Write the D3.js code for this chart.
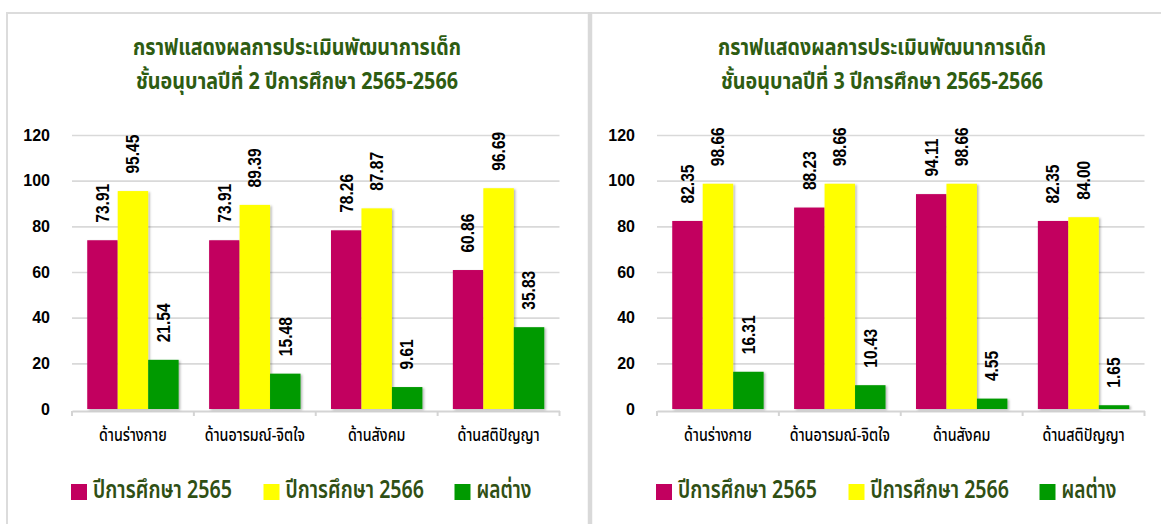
<!DOCTYPE html>
<html>
<head>
<meta charset="utf-8">
<script src="https://cdn.jsdelivr.net/npm/d3@7"></script>
<style>
  body { margin: 0; background: #fff; }
  svg { display: block; }
</style>
</head>
<body>
<div id="chart"></div>
<script>
// data
const categories = ["ด้านร่างกาย", "ด้านอารมณ์-จิตใจ", "ด้านสังคม", "ด้านสติปัญญา"];
const seriesNames = ["ปีการศึกษา 2565", "ปีการศึกษา 2566", "ผลต่าง"];
const k2y2565 = [73.91, 73.91, 78.26, 60.86];
const k2y2566 = [95.45, 89.39, 87.87, 96.69];
const k2diff = [21.54, 15.48, 9.61, 35.83];
const k3y2565 = [82.35, 88.23, 94.11, 82.35];
const k3y2566 = [98.66, 98.66, 98.66, 84.0];
const k3diff = [16.31, 10.43, 4.55, 1.65];
const yTicks = [0, 20, 40, 60, 80, 100, 120];
const titleLine1 = "กราฟแสดงผลการประเมินพัฒนาการเด็ก";
const titleK2 = "ชั้นอนุบาลปีที่ 2 ปีการศึกษา 2565-2566";
const titleK3 = "ชั้นอนุบาลปีที่ 3 ปีการศึกษา 2565-2566";

const W = 1161, H = 524;
const colors = ["#c2005f", "#ffff00", "#009a00"];
const thaiFont = "'Noto Sans Thai', 'Noto Sans', 'Liberation Sans', sans-serif";
const numFont = "'Liberation Sans', Arial, sans-serif";

const svg = d3.select("#chart").append("svg")
  .attr("width", W)
  .attr("height", H);

const defs = svg.append("defs");
defs.append("filter")
  .attr("id", "shadow")
  .attr("x", "-20%").attr("y", "-20%").attr("width", "150%").attr("height", "140%")
  .append("feDropShadow")
  .attr("dx", 1.5).attr("dy", 1)
  .attr("stdDeviation", 1.2)
  .attr("flood-color", "#000")
  .attr("flood-opacity", 0.3);

// panel borders
svg.append("line").attr("x1", 6).attr("x2", W).attr("y1", 13).attr("y2", 13)
  .attr("stroke", "#dcdcdc").attr("stroke-width", 2);
svg.append("line").attr("x1", 7).attr("x2", 7).attr("y1", 12).attr("y2", H)
  .attr("stroke", "#dcdcdc").attr("stroke-width", 2);
svg.append("line").attr("x1", 590).attr("x2", 590).attr("y1", 12).attr("y2", H)
  .attr("stroke", "#d9d9d9").attr("stroke-width", 4.5);

function drawChart(ox, subtitle, a, b, c) {
  const g = svg.append("g").attr("transform", `translate(${ox},0)`);

  const x = d3.scaleBand(categories, [72, 559.5]);
  const xs = d3.scaleBand(seriesNames, [0, x.bandwidth()]).paddingOuter(0.5);
  const y = d3.scaleLinear([0, 120], [409, 135]);

  const rows = categories.map((cat, i) => ({
    cat,
    vals: [a[i], b[i], c[i]].map((v, j) => ({ cat, s: seriesNames[j], v, j })),
  }));

  // title (the original font is a condensed Thai face, so squeeze it)
  const t = g.append("g")
    .attr("fill", "#2e5c12")
    .style("font-family", thaiFont)
    .style("font-weight", "bold")
    .style("font-size", "23px");
  t.append("text").attr("x", 297).attr("y", 55)
    .attr("text-anchor", "middle")
    .attr("textLength", 328).attr("lengthAdjust", "spacingAndGlyphs")
    .text(titleLine1);
  t.append("text").attr("x", 297).attr("y", 89)
    .attr("text-anchor", "middle")
    .attr("textLength", 322).attr("lengthAdjust", "spacingAndGlyphs")
    .text(subtitle);

  // y axis + grid
  const ya = g.append("g")
    .attr("transform", "translate(72,0)")
    .call(d3.axisLeft(y).tickValues(yTicks).tickSize(-(559.5 - 72)).tickPadding(22));
  ya.select(".domain").remove();
  ya.selectAll(".tick line").attr("stroke", "#d9d9d9").attr("stroke-width", 1.6);
  ya.selectAll(".tick").filter((d) => d === 0).select("line").remove();
  ya.selectAll(".tick text")
    .attr("fill", "#000")
    .style("font-family", numFont)
    .style("font-weight", "bold")
    .style("font-size", "16px");

  // x axis
  const xa = g.append("g")
    .attr("transform", "translate(0,411)")
    .call(d3.axisBottom(x).tickSize(0).tickPadding(18));
  xa.select(".domain").attr("stroke", "#d4d4d4").attr("stroke-width", 2);
  xa.selectAll(".tick text")
    .attr("fill", "#000")
    .attr("transform", "scale(0.84,1)")
    .style("font-family", thaiFont)
    .style("font-weight", 500)
    .style("font-size", "17px");
  const edges = categories.map((d) => x(d)).concat([x.range()[1]]);
  xa.selectAll(".edge").data(edges).join("line")
    .attr("class", "edge")
    .attr("x1", (d) => d).attr("x2", (d) => d)
    .attr("y1", 0).attr("y2", 5)
    .attr("stroke", "#d4d4d4").attr("stroke-width", 2);

  // bars
  const grp = g.append("g").selectAll("g").data(rows).join("g")
    .attr("transform", (d) => `translate(${x(d.cat)},0)`);
  grp.selectAll("rect").data((d) => d.vals).join("rect")
    .attr("x", (d) => xs(d.s))
    .attr("y", (d) => y(d.v))
    .attr("width", xs.bandwidth())
    .attr("height", (d) => y(0) - y(d.v))
    .attr("fill", (d) => colors[d.j])
    .attr("filter", "url(#shadow)");

  // value labels
  grp.selectAll("text").data((d) => d.vals).join("text")
    .attr("transform", (d) => `translate(${xs(d.s) + xs.bandwidth() / 2 + 6.3},${y(d.v) - 17.5}) rotate(-90) scale(0.89,1)`)
    .attr("text-anchor", "start")
    .attr("fill", "#000")
    .style("font-family", numFont)
    .style("font-weight", "bold")
    .style("font-size", "17.5px")
    .text((d) => d3.format(".2f")(d.v));

  // legend
  const legX = [71, 263.5, 454.5];
  const legW = [139, 138.5, 55];
  const leg = g.append("g").selectAll("g").data(seriesNames).join("g")
    .attr("transform", (d, i) => `translate(${legX[i]},484)`);
  leg.append("rect").attr("width", 16).attr("height", 16)
    .attr("fill", (d, i) => colors[i]);
  leg.append("text")
    .attr("x", 22).attr("y", 13.5)
    .attr("fill", "#2f4f14")
    .attr("textLength", (d, i) => legW[i]).attr("lengthAdjust", "spacingAndGlyphs")
    .style("font-family", thaiFont)
    .style("font-weight", 600)
    .style("font-size", "25px")
    .text((d) => d);
}

drawChart(0, titleK2, k2y2565, k2y2566, k2diff);
drawChart(585, titleK3, k3y2565, k3y2566, k3diff);
</script>
</body>
</html>
